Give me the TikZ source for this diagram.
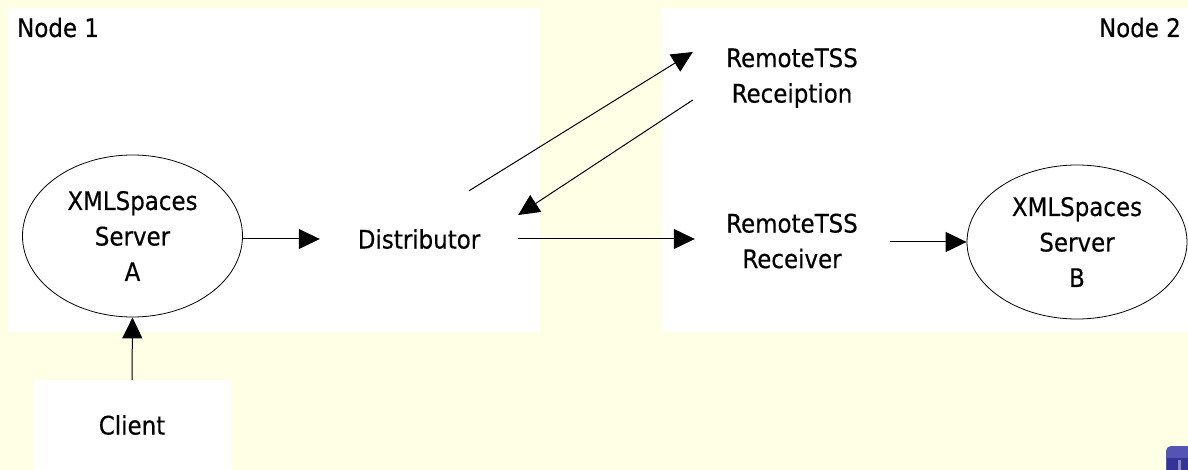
\documentclass[tikz,border=0pt]{standalone}
\usepackage{fontspec}
\setmainfont[FakeBold=0.4]{DejaVu Sans Condensed}
\usetikzlibrary{arrows.meta,shapes.geometric,calc}
\definecolor{paper}{RGB}{255,255,230}
\definecolor{iconblue}{RGB}{84,84,180}
\definecolor{icondark}{RGB}{52,52,150}
\begin{document}
\begin{tikzpicture}[x=1pt,y=-1pt,
  lbl/.style={font=\fontsize{25.5}{35.5}\selectfont, align=center, inner sep=0pt},
  panel/.style={fill=white, draw=none, inner sep=0pt},
  proc/.style={ellipse, draw=black, line width=0.8pt, lbl},
  conn/.style={draw=black, line width=1pt, -{Triangle[length=21pt,width=20pt]}}]
\useasboundingbox (0,0) rectangle (1188,470);
\clip (0,0) rectangle (1188,470);
\fill[paper] (0,0) rectangle (1188,470);

% host panels
\node[panel, minimum width=532, minimum height=324] (n1) at (274,170) {};
\node[panel, minimum width=526, minimum height=324] (n2) at (925,170) {};
\node[lbl, anchor=base west] (t1) at (17,37) {Node 1};
\node[lbl, anchor=base east] (t2) at (1181,37) {Node 2};

% client box
\node[panel, lbl, minimum width=198, minimum height=90] (cl) at (132,425) {Client};

% servers
\node[proc, minimum width=220, minimum height=162] (A) at (132.5,236) {XMLSpaces\\Server\\A};
\node[proc, minimum width=220, minimum height=154] (B) at (1077,242) {XMLSpaces\\Server\\B};

% middle components
\node[lbl, minimum width=198, minimum height=96] (dist) at (419,239) {Distributor};
\node[lbl, minimum width=194] (rcv) at (792,241) {RemoteTSS\\Receiver};
\node[lbl, minimum width=198] (rcp) at (792,78) {RemoteTSS\\Receiption};

% connectors
\draw[conn] (cl.north) -- (A.south);
\draw[conn] (dist.west -| A.east) -- (dist.west);
\draw[conn] (dist.east) -- (dist.east -| rcv.west);
\draw[conn] ($(rcv.east |- B.west)+(1,0)$) -- (B.west);
\draw[conn] ($(dist.north)+(50,0)$) -- ($(rcp.west)+(0,-26)$);
\draw[conn] ($(rcp.west)+(0,22)$) -- ($(dist.east)+(0,-24)$);

% corner icon
\fill[iconblue, rounded corners=5pt] (1166,446) rectangle (1200,480);
\fill[icondark] (1167,458) rectangle (1200,480);
\fill[iconblue!70!white] (1178,460) rectangle (1181,470);
\end{tikzpicture}
\end{document}
